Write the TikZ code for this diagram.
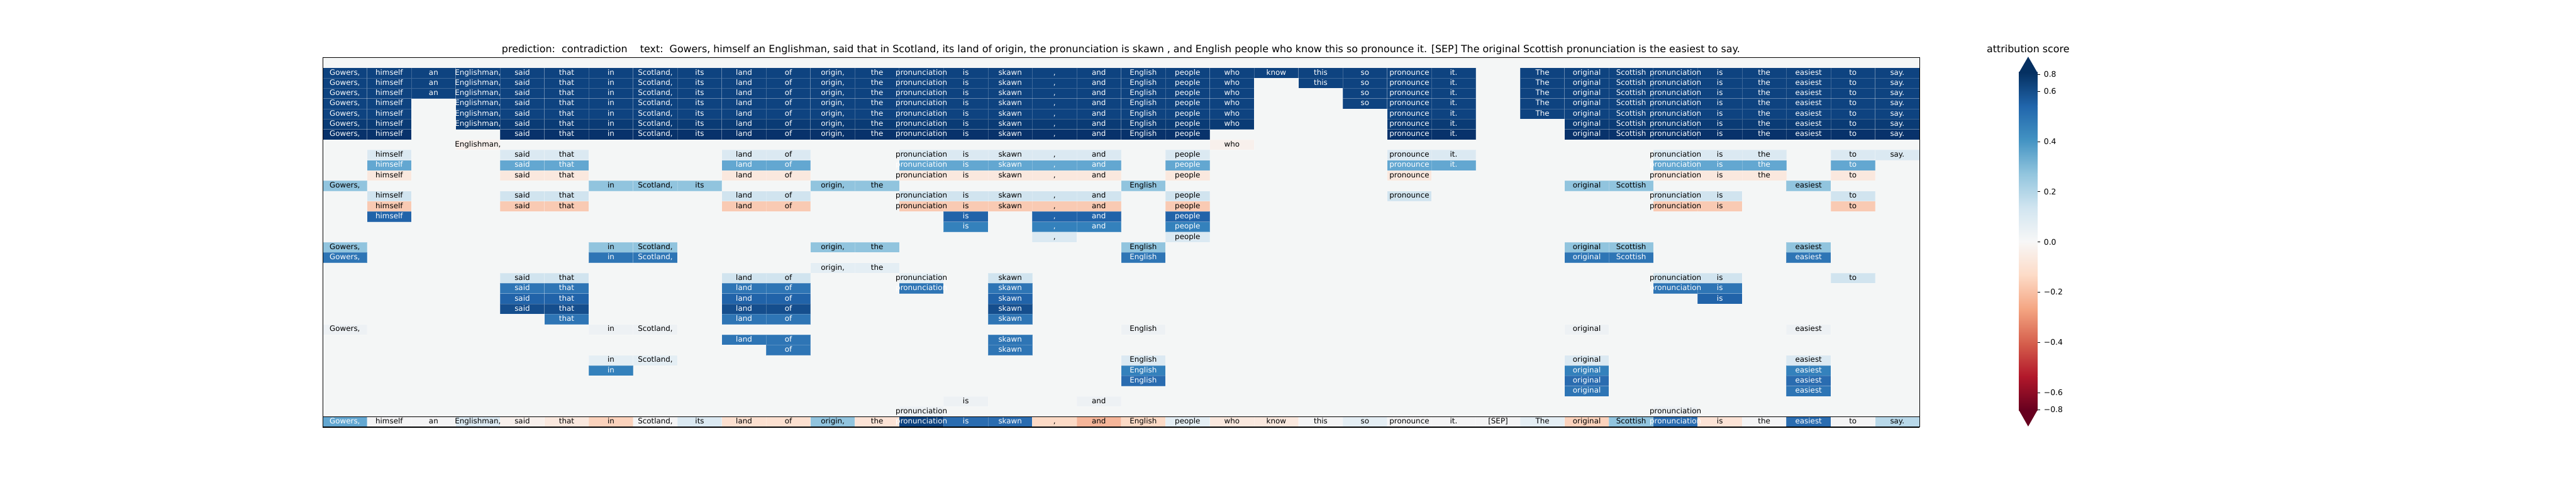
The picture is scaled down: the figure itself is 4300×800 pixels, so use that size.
\documentclass[tikz,border=0pt]{standalone}
\usepackage{fontspec}
\usepackage{etoolbox}
\setmainfont{DejaVu Sans}

\definecolor{NavyTop}{HTML}{0E4380}
\definecolor{NavyMid}{HTML}{0A3B75}
\definecolor{NavyDeep}{HTML}{08326B}
\definecolor{BlueDark}{HTML}{154E8D}
\definecolor{BlueStrong}{HTML}{2163A9}
\definecolor{BlueDeep}{HTML}{2A6CB0}
\definecolor{BlueMid}{HTML}{2E75B5}
\definecolor{BlueSoft}{HTML}{3481BC}
\definecolor{BlueLight}{HTML}{63A7D1}
\definecolor{BlueSky}{HTML}{91C4DE}
\definecolor{BlueIce}{HTML}{B8D8E9}
\definecolor{BluePale}{HTML}{D1E4EF}
\definecolor{BlueFaint}{HTML}{DBE9F2}
\definecolor{BlueWhisper}{HTML}{E4EEF4}
\definecolor{BlueMist}{HTML}{EDF1F4}
\definecolor{GreyBack}{HTML}{F4F6F6}
\definecolor{NearWhite}{HTML}{F4F4F5}
\definecolor{PinkFaint}{HTML}{F8F0EC}
\definecolor{PinkSoft}{HTML}{FAE8DE}
\definecolor{PinkPale}{HTML}{FCE3D6}
\definecolor{PeachPale}{HTML}{FCE0D0}
\definecolor{SalmonLight}{HTML}{FCDAC6}
\definecolor{Salmon}{HTML}{FBD2BC}
\definecolor{SalmonRow}{HTML}{F9CAB3}
\definecolor{SalmonDeep}{HTML}{F5B599}
% RdBu stops
\definecolor{Rd0}{HTML}{67001F}
\definecolor{Rd1}{HTML}{B2182B}
\definecolor{Rd2}{HTML}{D6604D}
\definecolor{Rd3}{HTML}{F4A582}
\definecolor{Rd4}{HTML}{FDDBC7}
\definecolor{Rd5}{HTML}{F7F7F7}
\definecolor{Rd6}{HTML}{D1E5F0}
\definecolor{Rd7}{HTML}{92C5DE}
\definecolor{Rd8}{HTML}{4393C3}
\definecolor{Rd9}{HTML}{2166AC}
\definecolor{Rd10}{HTML}{053061}

\tikzset{
  heatcell/.style={inner sep=0pt, minimum width=0.7404cm, minimum height=0.1713cm,
    draw=white, draw opacity=0.2, line width=0.25pt},
  celltext/.style={inner sep=0pt, text height=2.7pt, text depth=0.85pt,
    font=\fontsize{3.55}{4.2}\selectfont},
  ticklabel/.style={anchor=west, inner sep=0pt, font=\fontsize{3.7}{4.4}\selectfont},
  headline/.style={anchor=base, inner sep=0pt, font=\fontsize{4.74}{5.7}\selectfont},
}

% token of column #1
\newcommand{\TokenText}[1]{\ifcase#1\or Gowers,\or himself\or an\or Englishman,\or said\or that\or in\or Scotland,\or its\or land\or of\or origin,\or the\or pronunciation\or is\or skawn\or ,\or and\or English\or people\or who\or know\or this\or so\or pronounce\or it.\or [SEP]\or The\or original\or Scottish\or pronunciation\or is\or the\or easiest\or to\or say.\fi}

% row, column, fill, text colour (words are kept for after all fills)
\newcommand{\CellWords}{}
\newcommand{\HeatCell}[4]{%
  \node[heatcell, fill=#3] (Row#1Col#2) at ({538.6+74.04*(#2-0.5)},{96+17.13*(#1-0.5)}) {};
  \xappto\CellWords{\noexpand\node[celltext, text=#4] (Word#1Col#2) at (Row#1Col#2) {\noexpand\makebox[0pt]{\noexpand\TokenText{#2}}};}}
\newcommand{\HeatRow}[4]{\foreach \col in {#2}{\HeatCell{#1}{\col}{#3}{#4}}}

\begin{document}
\begin{tikzpicture}[x=0.01cm, y=-0.01cm]
		\useasboundingbox (0,0) rectangle (4300,800);
		
		% Define heatmap frame
		\fill[GreyBack] (538.6,96) rectangle (3204.04,695.55);
		\node[headline] (Title) at (1871,88) {prediction:~~contradiction~~~~text:~~Gowers, himself an Englishman, said that in Scotland, its land of origin, the pronunciation is skawn , and English people who know this so pronounce it. [SEP] The original Scottish pronunciation is the easiest to say.};
		
		% Define full rows
		\HeatRow{2}{1,...,26}{NavyTop}{white}
		\HeatRow{2}{28,...,36}{NavyTop}{white}
		\HeatRow{3}{1,...,21}{NavyTop}{white}
		\HeatRow{3}{23,...,26}{NavyTop}{white}
		\HeatRow{3}{28,...,36}{NavyTop}{white}
		\HeatRow{4}{1,...,21}{NavyTop}{white}
		\HeatRow{4}{24,...,26}{NavyTop}{white}
		\HeatRow{4}{28,...,36}{NavyTop}{white}
		\HeatRow{5}{1,2}{NavyTop}{white}
		\HeatRow{5}{4,...,21}{NavyTop}{white}
		\HeatRow{5}{24,...,26}{NavyTop}{white}
		\HeatRow{5}{28,...,36}{NavyTop}{white}
		\HeatRow{6}{1,2}{NavyTop}{white}
		\HeatRow{6}{4,...,21}{NavyTop}{white}
		\HeatRow{6}{25,26}{NavyTop}{white}
		\HeatRow{6}{28,...,36}{NavyTop}{white}
		\HeatRow{7}{1,2}{NavyMid}{white}
		\HeatRow{7}{4,...,21}{NavyMid}{white}
		\HeatRow{7}{25,26}{NavyMid}{white}
		\HeatRow{7}{29,...,36}{NavyMid}{white}
		\HeatRow{8}{1,2}{NavyDeep}{white}
		\HeatRow{8}{5,...,20}{NavyDeep}{white}
		\HeatRow{8}{25,26}{NavyDeep}{white}
		\HeatRow{8}{29,...,36}{NavyDeep}{white}
		
		% Define partial rows
		\HeatRow{9}{4,21}{PinkFaint}{black}
		\HeatRow{10}{2,5,6,10,11,14,15,16,17,18,20,25,26,31,32,33,35,36}{BlueFaint}{black}
		\HeatRow{11}{2,5,6,10,11,14,15,16,17,18,20,25,26,31,32,33,35}{BlueLight}{white}
		\HeatRow{12}{2,5,6,10,11,14,15,16,17,18,20,25,31,32,33,35}{PinkSoft}{black}
		\HeatRow{13}{1,7,8,9,12,13,19,29,30,34}{BlueSky}{black}
		\HeatRow{14}{2,5,6,10,11,14,15,16,17,18,20,25,31,32,35}{BluePale}{black}
		\HeatRow{15}{2,5,6,10,11,14,15,16,17,18,20,31,32,35}{SalmonRow}{black}
		\HeatRow{16}{2,15,17,18,20}{BlueStrong}{white}
		\HeatRow{17}{15,17,18,20}{BlueSoft}{white}
		\HeatRow{18}{17,20}{BlueFaint}{black}
		\HeatRow{19}{1,7,8,12,13,19,29,30,34}{BlueSky}{black}
		\HeatRow{20}{1,7,8,19,29,30,34}{BlueMid}{white}
		\HeatRow{21}{12,13}{BlueWhisper}{black}
		\HeatRow{22}{5,6,10,11}{BluePale}{black}
		\HeatRow{22}{14}{BlueWhisper}{black}
		\HeatRow{22}{16,31,32,35}{BluePale}{black}
		\HeatRow{23}{5,6,10,11,14,16,31,32}{BlueMid}{white}
		\HeatRow{24}{5,6,10,11,16,32}{BlueStrong}{white}
		\HeatRow{25}{5,6,10,11,16}{BlueDark}{white}
		\HeatRow{26}{6,10,11,16}{BlueMid}{white}
		\HeatRow{27}{1,7,8,19,29,34}{BlueMist}{black}
		\HeatRow{28}{10,11,16}{BlueMid}{white}
		\HeatRow{29}{11,16}{BlueMid}{white}
		\HeatRow{30}{7,8}{BlueWhisper}{black}
		\HeatRow{30}{19,29,34}{BlueFaint}{black}
		\HeatRow{31}{7,19,29,34}{BlueSoft}{white}
		\HeatRow{32}{19,29,34}{BlueDeep}{white}
		\HeatRow{33}{29,34}{BlueMid}{white}
		\HeatRow{34}{15,18}{BlueMist}{black}
		\HeatRow{35}{14,31}{BlueMist}{black}
		
		% Define input row
		\HeatCell{36}{1}{BlueLight}{white}
		\HeatCell{36}{2}{NearWhite}{black}
		\HeatCell{36}{3}{NearWhite}{black}
		\HeatCell{36}{4}{BlueFaint}{black}
		\HeatCell{36}{5}{PinkFaint}{black}
		\HeatCell{36}{6}{PinkSoft}{black}
		\HeatCell{36}{7}{Salmon}{black}
		\HeatCell{36}{8}{NearWhite}{black}
		\HeatCell{36}{9}{BlueFaint}{black}
		\HeatCell{36}{10}{PeachPale}{black}
		\HeatCell{36}{11}{PeachPale}{black}
		\HeatCell{36}{12}{BlueSky}{black}
		\HeatCell{36}{13}{PinkPale}{black}
		\HeatCell{36}{14}{NavyTop}{white}
		\HeatCell{36}{15}{BlueDeep}{white}
		\HeatCell{36}{16}{BlueDeep}{white}
		\HeatCell{36}{17}{SalmonLight}{black}
		\HeatCell{36}{18}{SalmonDeep}{black}
		\HeatCell{36}{19}{SalmonLight}{black}
		\HeatCell{36}{20}{BlueWhisper}{black}
		\HeatCell{36}{21}{PinkSoft}{black}
		\HeatCell{36}{22}{PinkSoft}{black}
		\HeatCell{36}{23}{NearWhite}{black}
		\HeatCell{36}{24}{BlueWhisper}{black}
		\HeatCell{36}{25}{NearWhite}{black}
		\HeatCell{36}{26}{NearWhite}{black}
		\HeatCell{36}{27}{NearWhite}{black}
		\HeatCell{36}{28}{BlueWhisper}{black}
		\HeatCell{36}{29}{Salmon}{black}
		\HeatCell{36}{30}{BlueSky}{black}
		\HeatCell{36}{31}{BlueDeep}{white}
		\HeatCell{36}{32}{PinkPale}{black}
		\HeatCell{36}{33}{NearWhite}{black}
		\HeatCell{36}{34}{BlueDeep}{white}
		\HeatCell{36}{35}{NearWhite}{black}
		\HeatCell{36}{36}{BlueIce}{black}
		
		% words on top of every fill
		\CellWords
		
		\draw[line width=0.25pt] (538.6,96) rectangle (3204.04,712.7);
		\draw[line width=0.55pt] (538.6,695.55) -- (3204.04,695.55);
		\draw[line width=0.4pt] (538.6,712.7) -- (3204.04,712.7);
		
		% Define colorbar
		\foreach \k [evaluate=\k as \kk using int(\k+1)] in {0,...,9}
			\shade[bottom color=Rd\k, top color=Rd\kk] (3370,{684.5-56.35*\kk-0.3}) rectangle (3401,{684.5-56.35*\k});
		\fill[Rd10] (3370,121.4) -- (3385.5,94.6) -- (3401,121.4) -- cycle;
		\fill[Rd0] (3370,684.3) -- (3385.5,711.6) -- (3401,684.3) -- cycle;
		\foreach \val/\ypos [count=\n] in {0.8/124, 0.6/152.5, 0.4/236.5, 0.2/320, 0.0/404, −0.2/487.5, −0.4/571.5, −0.6/655.5, −0.8/683.5} {
			\draw[line width=0.25pt] (3401,\ypos) -- (3406,\ypos);
			\node[ticklabel] (Tick\n) at (3411,\ypos) {\val};
		}
		\node[headline] (ScoreLabel) at (3385.5,88) {attribution score};
	\end{tikzpicture}
\end{document}
